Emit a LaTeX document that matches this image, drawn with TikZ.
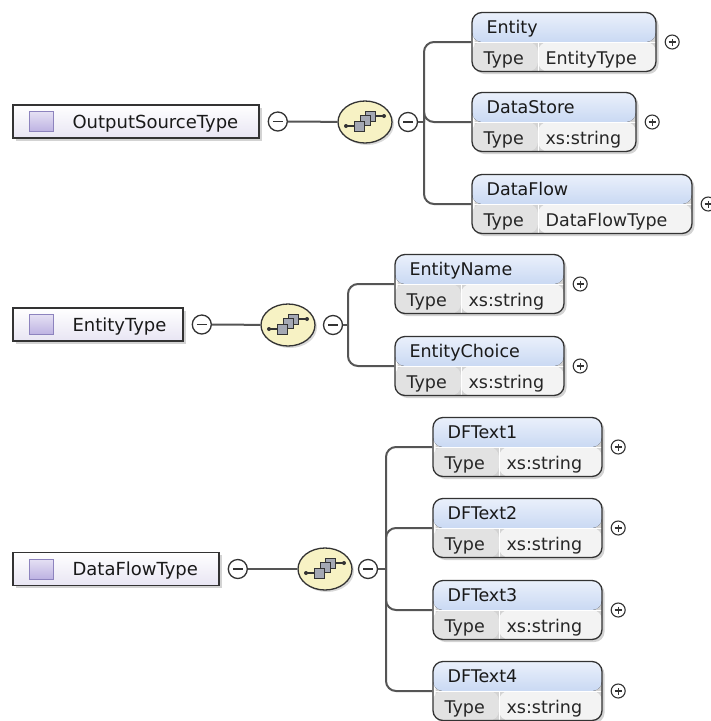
\documentclass[tikz,border=0pt]{standalone}
\usepackage{fontspec}
\setmainfont{DejaVu Sans}
\usetikzlibrary{positioning}
\usetikzlibrary{calc}
\usetikzlibrary{shapes.geometric}
\usetikzlibrary{shadows}

\definecolor{linegray}{HTML}{555555}
\definecolor{boxborder}{HTML}{333333}
\definecolor{hdtop}{HTML}{EAF0FB}
\definecolor{hdbot}{HTML}{A9C2EB}
\definecolor{typecell}{HTML}{E2E2E2}
\definecolor{valcell}{HTML}{F3F3F3}
\definecolor{seqfill}{HTML}{F7F2C4}
\definecolor{iconfill}{HTML}{BDB2E2}
\definecolor{iconborder}{HTML}{8D83BE}
\definecolor{mainfill}{HTML}{E8E5F3}
\definecolor{sqfill}{HTML}{A4A8B4}

\begin{document}
\begin{tikzpicture}[x=1pt,y=-1pt]
	\tikzset{mainbox/.style = {rectangle, draw=boxborder, line width=1.3pt, top color=white, bottom color=mainfill,
			minimum height=33pt, inner sep=0pt, drop shadow={shadow xshift=2.5pt, shadow yshift=-2.5pt, opacity=.35}}}
	\tikzset{childbox/.style = {rectangle, rounded corners=10pt, draw=boxborder, line width=1.3pt, minimum height=59pt,
			inner sep=0pt, drop shadow={shadow xshift=2.5pt, shadow yshift=-2.5pt, opacity=.35},
			path picture={
				\fill[top color=hdtop, bottom color=hdbot] (path picture bounding box.north west) rectangle (path picture bounding box.east);
				\fill[typecell] (path picture bounding box.west) rectangle ([xshift=66pt]path picture bounding box.south west);
				\fill[valcell] ([xshift=66pt]path picture bounding box.west) rectangle (path picture bounding box.south east);
				\draw[white, line width=1pt] ([xshift=66pt]path picture bounding box.west) -- ([xshift=66pt]path picture bounding box.south west);
				\draw[white, line width=1pt] (path picture bounding box.west) -- (path picture bounding box.east);}}}
	\tikzset{seq/.style = {ellipse, draw=boxborder, line width=1.3pt, fill=seqfill, minimum width=54pt, minimum height=42pt,
			inner sep=0pt, drop shadow={shadow xshift=2pt, shadow yshift=-2pt, opacity=.3}}}
	\tikzset{minusc/.style = {circle, draw=boxborder, line width=1.3pt, fill=white, minimum size=19pt, inner sep=0pt,
			path picture={\draw[boxborder, line width=1.3pt] ([xshift=-5pt]path picture bounding box.center) -- ([xshift=5pt]path picture bounding box.center);}}}
	\tikzset{plusc/.style = {circle, draw=boxborder, line width=1.1pt, fill=white, minimum size=14pt, inner sep=0pt,
			path picture={\draw[boxborder, line width=1.1pt] ([xshift=-3.5pt]path picture bounding box.center) -- ([xshift=3.5pt]path picture bounding box.center)
				([yshift=-3.5pt]path picture bounding box.center) -- ([yshift=3.5pt]path picture bounding box.center);}}}
	\tikzset{icon/.style = {rectangle, draw=iconborder, line width=1pt, top color=iconfill!40, bottom color=iconfill,
			minimum width=24pt, minimum height=20pt, inner sep=0pt}}
	\tikzset{maintext/.style = {anchor=base west, inner sep=0pt, text=black!90, font=\fontsize{18}{21}\selectfont}}
	\tikzset{hdtext/.style = {anchor=base west, inner sep=0pt, text=black!90, font=\fontsize{17.5}{20}\selectfont}}
	\tikzset{rowtext/.style = {anchor=base west, inner sep=0pt, text=black!85, font=\fontsize{17.5}{20}\selectfont}}
	\tikzset{link/.style = {draw=linegray, line width=2pt}}
	\tikzset{iconline/.style = {draw=boxborder, line width=1.3pt}}
	\tikzset{iconsq/.style = {draw=boxborder, line width=1pt, fill=sqfill}}

	\useasboundingbox (0,0) rectangle (711,721);

	% complex types
	\node[mainbox, minimum width=246pt] (OST) at (136,121.5) {};
	\node[minusc, right=8pt of OST] (OSTm) {};
	\node[seq] (OSTseq) at (365,122) {};
	\node[minusc] (OSTm2) at (408,122) {};
	\coordinate (OSTbar) at (424,122);

	\node[mainbox, minimum width=170pt] (ETY) at (98,324.5) {};
	\node[minusc, right=8pt of ETY] (ETYm) {};
	\node[seq] (ETYseq) at (288,325) {};
	\node[minusc] (ETYm2) at (333,325) {};
	\coordinate (ETYbar) at (348,325);

	\node[mainbox, minimum width=206pt] (DFT) at (116,569) {};
	\node[minusc, right=8pt of DFT] (DFTm) {};
	\node[seq] (DFTseq) at (325,569) {};
	\node[minusc] (DFTm2) at (368,569) {};
	\coordinate (DFTbar) at (386,569);

	\foreach \nm/\txt in {OST/OutputSourceType, ETY/EntityType, DFT/DataFlowType} {
		\node[icon] (\nm-i) at ([xshift=29pt]\nm.west) {};
		\node[maintext] (\nm-l) at ([xshift=60pt,yshift=-6.5pt]\nm.west) {\txt};
	}

	% sequence icons
	\foreach \s in {OSTseq,ETYseq,DFTseq} {
		\begin{scope}[shift={(\s)}]
			\draw[iconline] (-19,4) -- (-11,4);
			\draw[iconline] (10,-6) -- (19,-6);
			\fill[boxborder] (-19,4) circle (2pt) (19,-6) circle (2pt);
			\draw[iconsq] (0,-11) rectangle (10,-1);
			\draw[iconsq] (-5,-7) rectangle (5,3);
			\draw[iconsq] (-11,-1) rectangle (-1,9);
		\end{scope}
	}

	\foreach \g in {OST,ETY,DFT} {
		\draw[link] (\g m) -- (\g seq);
		\draw[link] (\g m2) -- (\g bar);
	}

	% elements
	\foreach \nm/\grp/\px/\py/\bw/\ttl/\val in {
		ENT/OST/564/42/184pt/Entity/EntityType,
		DST/OST/554/122/164pt/DataStore/xs:string,
		DFL/OST/582/204/220pt/DataFlow/DataFlowType,
		ENN/ETY/479.5/284/169pt/EntityName/xs:string,
		ENC/ETY/479.5/366/169pt/EntityChoice/xs:string,
		DF1/DFT/517.5/447/169pt/DFText1/xs:string,
		DF2/DFT/517.5/528/169pt/DFText2/xs:string,
		DF3/DFT/517.5/610/169pt/DFText3/xs:string,
		DF4/DFT/517.5/691/169pt/DFText4/xs:string} {
		\node[childbox, minimum width=\bw] (\nm) at (\px,\py) {};
		\node[hdtext] (\nm-n) at ([xshift=15pt,yshift=-22pt]\nm.north west) {\ttl};
		\node[rowtext] (\nm-t) at ([xshift=12pt,yshift=8pt]\nm.south west) {Type};
		\node[rowtext] (\nm-v) at ([xshift=74pt,yshift=8pt]\nm.south west) {\val};
		\node[plusc, right=8pt of \nm] (\nm-p) {};
		\draw[link, rounded corners=10pt] (\grp bar) |- (\nm.west);
	}
\end{tikzpicture}
\end{document}
